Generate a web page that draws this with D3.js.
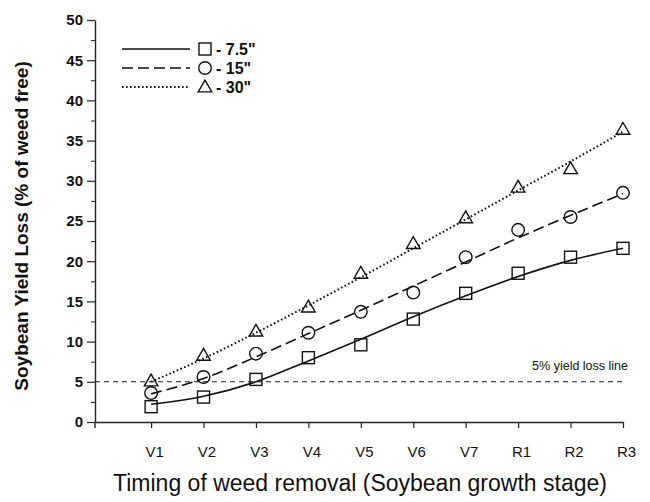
<!DOCTYPE html>
<html><head><meta charset="utf-8">
<script src="https://cdn.jsdelivr.net/npm/d3@7"></script>
<style>
body{margin:0;background:#fff}
svg{display:block}
text{font-family:"Liberation Sans",Arial,Helvetica,sans-serif;fill:#111}
</style>
</head><body>
<svg id="chart" width="650" height="502"></svg>
<script>
// ---- data ----
const stages = ["V1","V2","V3","V4","V5","V6","V7","R1","R2","R3"];
const yTicks = [0,5,10,15,20,25,30,35,40,45,50];
const yMinorTicks = [2.5,7.5,12.5,17.5,22.5,27.5,32.5,37.5,42.5,47.5];
// observed points
const obs75 = [1.9, 3.1, 5.3, 8.0, 9.6, 12.8, 16.0, 18.5, 20.5, 21.6];
const obs15 = [3.6, 5.6, 8.5, 11.1, 13.7, 16.1, 20.5, 23.9, 25.5, 28.5];
const obs30 = [5.1, 8.3, 11.3, 14.3, 18.5, 22.2, 25.4, 29.2, 31.5, 36.4];
// fitted curves
const fit75 = [2.2, 3.2, 5.0, 7.6, 10.3, 13.1, 15.7, 18.1, 20.1, 21.6];
const fit15 = [3.5, 5.4, 8.1, 11.0, 13.9, 16.9, 19.9, 22.9, 25.7, 28.4];
const fit30 = [5.0, 7.9, 11.1, 14.5, 18.0, 21.6, 25.2, 28.8, 32.4, 36.1];
const seriesLabels = ['- 7.5"', '- 15"', '- 30"'];
const thresholdValue = 5;
const thresholdLabel = "5% yield loss line";
const xTitle = "Timing of weed removal (Soybean growth stage)";
const yTitle = "Soybean Yield Loss (% of weed free)";

// ---- layout ----
const svg = d3.select("#chart");
const x = d3.scaleLinear().domain([-1.07, 9]).range([95, 623]);
const y = d3.scaleLinear().domain([0, 50]).range([422, 20]);

const series = [
  {obs: obs75, fit: fit75, dash: null, sym: "square", label: seriesLabels[0]},
  {obs: obs15, fit: fit15, dash: "11,5", sym: "circle", label: seriesLabels[1]},
  {obs: obs30, fit: fit30, dash: "1.6,2.4", sym: "triangle", label: seriesLabels[2]}
];

// threshold line
svg.append("line")
  .attr("x1", x(-1.07)).attr("x2", x(9))
  .attr("y1", y(thresholdValue)).attr("y2", y(thresholdValue))
  .attr("stroke", "#222").attr("stroke-width", 1.1).attr("stroke-dasharray", "5,4");
svg.append("text")
  .attr("x", 628).attr("y", y(thresholdValue) - 12)
  .attr("text-anchor", "end").style("font-size", "12.5px")
  .text(thresholdLabel);

// axes
const xAxis = svg.append("g").attr("transform", `translate(0,${y(0)})`)
  .call(d3.axisBottom(x).tickValues(d3.range(stages.length))
    .tickFormat(i => stages[i]).tickSize(6).tickSizeOuter(0).tickPadding(18));
xAxis.select(".domain").attr("stroke", "#222").attr("stroke-width", 1.4);
xAxis.selectAll(".tick line").attr("stroke", "#222").attr("stroke-width", 1.2);
xAxis.selectAll(".tick text").attr("dx", 3).style("font-size", "15px").style("font-family", '"Liberation Sans",Arial,sans-serif').attr("fill", "#111");

const yAxis = svg.append("g").attr("transform", `translate(${x(-1.07)},0)`)
  .call(d3.axisLeft(y).tickValues(yTicks).tickSize(8).tickSizeOuter(0).tickPadding(4));
yAxis.select(".domain").attr("stroke", "#222").attr("stroke-width", 1.4);
yAxis.selectAll(".tick line").attr("stroke", "#222").attr("stroke-width", 1.2);
yAxis.selectAll(".tick text").style("font-size", "15px").style("font-weight", "bold").style("font-family", '"Liberation Sans",Arial,sans-serif').attr("fill", "#111");

const yMinor = svg.append("g").attr("transform", `translate(${x(-1.07)},0)`)
  .call(d3.axisLeft(y).tickValues(yMinorTicks).tickSize(4).tickFormat(""));
yMinor.select(".domain").remove();
yMinor.selectAll(".tick line").attr("stroke", "#222").attr("stroke-width", 1);
svg.append("line").attr("x1", x(-1.07)).attr("x2", x(-1.07)).attr("y1", y(0)).attr("y2", y(0) + 6)
  .attr("stroke", "#222").attr("stroke-width", 1.4);

// axis titles
svg.append("text")
  .attr("x", 360).attr("y", 491).attr("text-anchor", "middle")
  .style("font-size", "23px").text(xTitle);
svg.append("text")
  .attr("transform", `translate(28,${(y(0) + y(50)) / 2 + 5}) rotate(-90)`)
  .attr("text-anchor", "middle").style("font-size", "19px").style("font-weight", "bold")
  .text(yTitle);

// symbols
function drawSymbol(g, type, cx, cy) {
  if (type === "square") {
    g.append("rect").attr("x", cx - 6).attr("y", cy - 6).attr("width", 12).attr("height", 12)
      .attr("fill", "none").attr("stroke", "#111").attr("stroke-width", 1.4);
  } else if (type === "circle") {
    g.append("circle").attr("cx", cx).attr("cy", cy).attr("r", 6.3)
      .attr("fill", "none").attr("stroke", "#111").attr("stroke-width", 1.4);
  } else {
    g.append("path").attr("d", d3.symbol(d3.symbolTriangle, 80)())
      .attr("transform", `translate(${cx},${cy + 1})`)
      .attr("fill", "none").attr("stroke", "#111").attr("stroke-width", 1.4);
  }
}

const line = d3.line().x((d, i) => x(i)).y(d => y(d)).curve(d3.curveMonotoneX);
series.forEach(s => {
  svg.append("path").attr("d", line(s.fit)).attr("fill", "none")
    .attr("stroke", "#111").attr("stroke-width", s.sym === "triangle" ? 2 : 1.6)
    .attr("stroke-dasharray", s.dash);
  const g = svg.append("g");
  s.obs.forEach((v, i) => drawSymbol(g, s.sym, x(i), y(v)));
});

// legend
series.forEach((s, k) => {
  const ly = 49 + k * 19;
  svg.append("line").attr("x1", 122).attr("x2", 190).attr("y1", ly).attr("y2", ly)
    .attr("stroke", "#111").attr("stroke-width", s.sym === "triangle" ? 2 : 1.6)
    .attr("stroke-dasharray", s.dash);
  const g = svg.append("g");
  drawSymbol(g, s.sym, 205, ly);
  svg.append("text").attr("x", 216).attr("y", ly + 6)
    .style("font-size", "16px").style("font-weight", "bold").text(s.label);
});
</script>
</body></html>
